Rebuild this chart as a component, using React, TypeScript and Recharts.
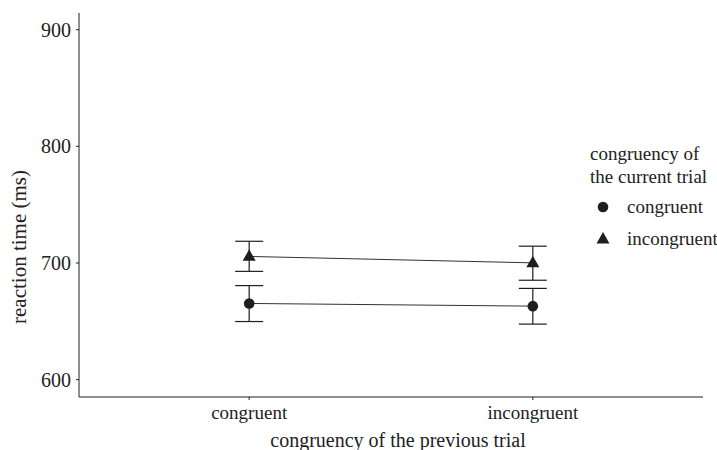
import React from "react";
import { ComposedChart, Line, XAxis, YAxis, ErrorBar } from "recharts";

const categories = ["congruent", "incongruent"];
const congruentMean = [665.3, 663.0];
const congruentLow = [649.8, 647.6];
const congruentHigh = [680.6, 678.2];
const incongruentMean = [705.6, 700.1];
const incongruentLow = [692.8, 685.2];
const incongruentHigh = [718.6, 714.4];
const yTicks = [600, 700, 800, 900];

const data = categories.map((c, i) => ({
  x: i + 1,
  cong: congruentMean[i],
  congErr: [congruentMean[i] - congruentLow[i], congruentHigh[i] - congruentMean[i]],
  incong: incongruentMean[i],
  incongErr: [incongruentMean[i] - incongruentLow[i], incongruentHigh[i] - incongruentMean[i]],
}));

const FONT = "'Liberation Serif', 'Times New Roman', serif";
const INK = "#1e1e1e";

const CircleDot = (props: any) => {
  const { cx, cy } = props;
  if (cx == null || cy == null) return null;
  return <circle cx={cx} cy={cy} r={5.3} fill={INK} stroke="none" />;
};
const TriDot = (props: any) => {
  const { cx, cy } = props;
  if (cx == null || cy == null) return null;
  const h = 11.5, w = 13;
  return (
    <polygon
      points={`${cx},${cy - h * 0.62} ${cx - w / 2},${cy + h * 0.38} ${cx + w / 2},${cy + h * 0.38}`}
      fill={INK}
      stroke="none"
    />
  );
};

const LegendBox = () => (
  <div
    style={{
      position: "absolute",
      left: 590,
      top: 142,
      fontFamily: FONT,
      fontSize: 19,
      color: "#222",
      lineHeight: "23px",
      whiteSpace: "nowrap",
    }}
  >
    <div>congruency of</div>
    <div>the current trial</div>
    <div style={{ display: "flex", alignItems: "center", marginTop: 7 }}>
      <svg width={30} height={20}>
        <circle cx={13} cy={10} r={5.3} fill={INK} />
      </svg>
      <span style={{ marginLeft: 7 }}>congruent</span>
    </div>
    <div style={{ display: "flex", alignItems: "center", marginTop: 9 }}>
      <svg width={30} height={20}>
        <polygon points="13,3 6.5,14.5 19.5,14.5" fill={INK} />
      </svg>
      <span style={{ marginLeft: 7 }}>incongruent</span>
    </div>
  </div>
);

export default function App() {
  return (
    <div style={{ position: "absolute", left: 0, top: 0, width: 717, height: 450, background: "#fff", overflow: "hidden" }}>
      <ComposedChart
        width={717}
        height={450}
        data={data}
        margin={{ top: 13, right: 14, bottom: 23, left: 0 }}
        style={{ fontFamily: FONT }}
      >
        <XAxis
          dataKey="x"
          type="number"
          domain={[0.4, 2.6]}
          ticks={[1, 2]}
          tickFormatter={(v: number) => categories[v - 1]}
          height={30}
          stroke={INK}
          tickSize={3}
          tickMargin={6}
          tick={{ fill: "#222", fontSize: 19, fontFamily: FONT }}
          label={{
            content: () => (
              <text x={398} y={447} textAnchor="middle" fill="#222" fontSize={20} fontFamily={FONT}>
                congruency of the previous trial
              </text>
            ),
          }}
        />
        <YAxis
          type="number"
          domain={[585.1, 914.3]}
          ticks={yTicks}
          allowDataOverflow
          width={79}
          stroke={INK}
          tickSize={3}
          tickMargin={5}
          tick={{ fill: "#222", fontSize: 20, fontFamily: FONT }}
          label={{
            content: () => (
              <text
                x={0}
                y={0}
                transform="translate(26,247) rotate(-90)"
                textAnchor="middle"
                fill="#222"
                fontSize={21}
                fontFamily={FONT}
              >
                reaction time (ms)
              </text>
            ),
          }}
        />
        <Line
          dataKey="cong"
          type="linear"
          stroke="#333"
          strokeWidth={1}
          dot={<CircleDot />}
          activeDot={false}
          isAnimationActive={false}
        >
          <ErrorBar dataKey="congErr" direction="y" width={14} stroke={INK} strokeWidth={1.2} />
        </Line>
        <Line
          dataKey="incong"
          type="linear"
          stroke="#333"
          strokeWidth={1}
          dot={<TriDot />}
          activeDot={false}
          isAnimationActive={false}
        >
          <ErrorBar dataKey="incongErr" direction="y" width={14} stroke={INK} strokeWidth={1.2} />
        </Line>
      </ComposedChart>
      <LegendBox />
    </div>
  );
}
